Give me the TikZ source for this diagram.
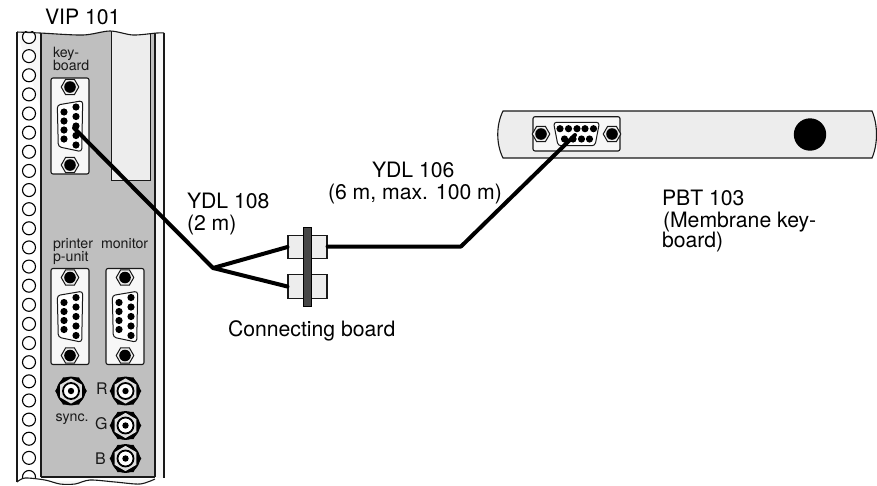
\documentclass[tikz,border=0pt]{standalone}
\usepackage{fontspec}
\setmainfont{TeX Gyre Heros}
\tikzset{
  x=1pt,y=-1pt,
  wire/.style={line width=4pt,line cap=round,line join=round,black},
  big/.style={anchor=base west,inner sep=0pt,outer sep=0pt,font=\fontsize{21.2}{22}\selectfont,text=black},
  small/.style={anchor=base west,inner sep=0pt,outer sep=0pt,font=\fontsize{14.2}{15}\selectfont,text=black!90},
  mid/.style={anchor=base west,inner sep=0pt,outer sep=0pt,font=\fontsize{16}{17}\selectfont,text=black!90},
  blockbox/.style={rectangle,draw=black!90,line width=1.1pt,fill=black!7,minimum width=39pt,minimum height=23.5pt,inner sep=0pt},
  pin/.style={fill=black},
  pics/nut/.style={code={
    \draw[line width=1pt,draw=black!90,fill=black!7] (0:8.8)--(60:8.8)--(120:8.8)--(180:8.8)--(240:8.8)--(300:8.8)--cycle;
    \fill[black] (0,0) circle (5.8);
  }},
  pics/bnc/.style={code={
    \fill[black] (0:15.8)--(60:15.8)--(120:15.8)--(180:15.8)--(240:15.8)--(300:15.8)--cycle;
    \fill[black] (0,0) circle (14.4);
    \fill[black!13] (30:12.6)--(90:12.6)--(150:12.6)--(210:12.6)--(270:12.6)--(330:12.6)--cycle;
    \draw[black,line width=1.8pt,fill=white] (0,0) circle (8);
    \fill[black] (0,0) circle (3.2);
  }},
  pics/dsubv/.style={code={
    \draw[line width=1pt,draw=black!90,fill=white,rounded corners=3pt] (-12.7,-21)--(12.7,-25.3)--(11.7,25.7)--(-11.7,20.7)--cycle;
    \foreach \py in {-14,-5,4,13}{\fill[pin] (-6,\py) circle (3.6);}
    \foreach \py in {-19,-9.5,0,9.5,19}{\fill[pin] (6,\py) circle (3.6);}
  }},
  pics/plate/.style={code={
    \draw[line width=1.1pt,draw=black!90,fill=black!3,rounded corners=2pt] (-19,-48) rectangle (19,48);
    \pic at (0,-39) {nut};
    \pic at (0,39) {nut};
    \pic at (0,0) {dsubv};
  }},
}
\begin{document}
\begin{tikzpicture}
\useasboundingbox (0,0) rectangle (877,485);
% --- rack unit
\fill[black!3] plot[smooth] coordinates {(17,32)(40,33)(83,35)(110,31)(133,35)(157,33)(164,33)} -- (164,478) -- (155,478)
  plot[smooth] coordinates {(155,479)(140,484)(115,482)(90,480)(75,484)(60,484)(45,480)(25,478)(17,482)} -- cycle;
\fill[black!25] plot[smooth] coordinates {(41,33)(83,35)(110,31)(133,35)(155,33)} -- (155,477) -- (41,477) -- cycle;
\fill[black!7] plot[smooth] coordinates {(111,31)(133,35)(150,33.5)} -- (150,180) -- (111,180) -- cycle;
\draw[line width=1pt,black!90] (111,31) -- (111,180) -- (150,180) -- (150,33);
\draw[line width=1.2pt,black!90] (41,33) -- (41,477) (155,33) -- (155,477) (164,33) -- (164,478) (41,477) -- (155,477);
\draw[line width=1.6pt,black!90] (17,32) -- (17,482);
% holes
\foreach \i in {0,...,23}{\draw[line width=1.1pt,black,fill=white] (29,37+19.13*\i) circle (6.5);}
\fill[white] (0,20) rectangle (164,31.4);
\draw[line width=1.1pt,black!90,fill=none] plot[smooth] coordinates {(17,32)(40,33)(83,35)(110,31)(133,35)(157,33)(164,33)};
\fill[white] plot[smooth] coordinates {(14,485)(17,482)(25,478)(45,480)(60,484)(75,484)(90,480)(115,482)(140,484)(155,479)(166,484)} -- (166,485) -- cycle;
\draw[line width=1.1pt,black!90] plot[smooth] coordinates {(17,482)(25,478)(45,480)(60,484)(75,484)(90,480)(115,482)(140,484)(155,479)};
% plates
\pic at (70,126) {plate};
\pic at (70,316.5) {plate};
\pic at (125,316.5) {plate};
% BNC
\pic at (71,391) {bnc};
\pic at (125.5,391) {bnc};
\pic at (125.5,425.5) {bnc};
\pic at (125.5,458.5) {bnc};
% small labels
\node[small] (lkey) at (53,57) {key-};
\node[small] (lboard) at (53,70) {board};
\node[small] (lprinter) at (53,248) {printer};
\node[small] (lpunit) at (53,261) {p-unit};
\node[small] (lmonitor) at (101,248) {monitor};
\node[small] (lsync) at (55.5,421) {sync.};
\node[mid] (lr) at (96,394) {R};
\node[mid] (lg) at (95,429) {G};
\node[mid] (lb) at (95,464) {B};
% --- keypad
\draw[line width=1.1pt,black!90,fill=black!7] (503,111) .. controls (496,125) and (496,144) .. (503,158) -- (872,158) .. controls (878,144) and (878,125) .. (872,111) -- cycle;
\draw[line width=1.1pt,draw=black!90,fill=black!3,rounded corners=2pt] (533,116.7) rectangle (620,151);
\pic at (541,134) {nut};
\pic at (612,134) {nut};
\draw[line width=1pt,draw=black!90,fill=white,rounded corners=3pt] (553.5,122.3)--(599.5,122.3)--(595,145.7)--(558,145.7)--cycle;
\foreach \px in {560,568.5,577,585,593.5}{\fill[pin] (\px,128.7) circle (3.6);}
\foreach \px in {564.5,573,581.5,589.5}{\fill[pin] (\px,139) circle (3.6);}
\fill[black] (810,134.5) circle (16.2);
% --- connecting board
\node[blockbox] (upper) at (307.5,247) {};
\node[blockbox] (lower) at (307.5,286.5) {};
\node[rectangle,draw=black,line width=1pt,fill=black!72,minimum width=8.5pt,minimum height=79pt,inner sep=0pt] (bar) at (307.5,266.5) {};
% --- cables
\coordinate (kbpin) at (74,128);
\coordinate (split) at (213,268);
\coordinate (bend) at (461,246.5);
\coordinate (padpin) at (575,135);
\draw[wire] (kbpin) -- (split);
\draw[wire] (upper.west) -- (split) -- (lower.west);
\draw[wire] (upper.east |- bend) -- (bend) -- (padpin);
% --- labels
\node[big] (vip) at (45,24) {VIP 101};
\node[big] (y108) at (187,208) {YDL 108};
\node[big] (y108b) at (187,230) {(2 m)};
\node[big] (y106) at (372,177.5) {YDL 106};
\node[big] (y106b) at (328,199.3) {(6 m, max. 100 m)};
\node[big] (pbt) at (662,205.7) {PBT 103};
\node[big] (pbtb) at (663,227) {(Membrane key-};
\node[big] (pbtc) at (662,247) {board)};
\node[big] (cb) at (228,336.7) {Connecting board};
\end{tikzpicture}
\end{document}
